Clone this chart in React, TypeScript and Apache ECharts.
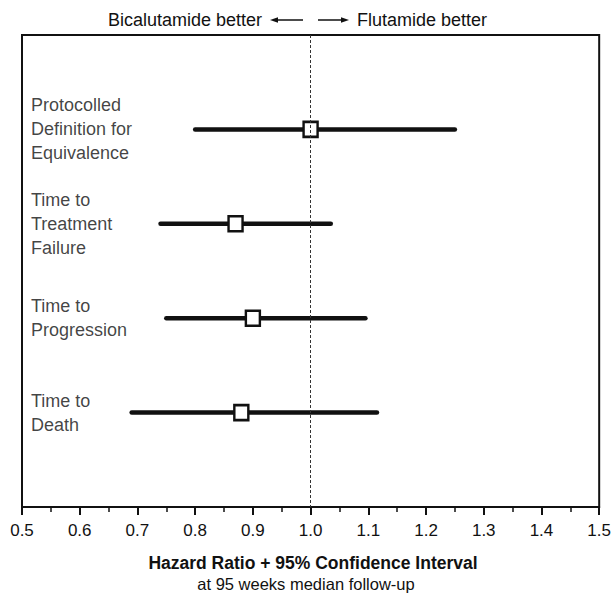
import React, { useEffect, useRef } from "react";
import * as echarts from "echarts";

const categories = [
  "Protocolled\nDefinition for\nEquivalence",
  "Time to\nTreatment\nFailure",
  "Time to\nProgression",
  "Time to\nDeath",
];
const hazardRatio = [1.0, 0.87, 0.9, 0.88];
const ciLower = [0.8, 0.74, 0.75, 0.69];
const ciUpper = [1.25, 1.035, 1.095, 1.115];
const rowPositions = [1, 2, 3, 4];
const xMin = 0.5;
const xMax = 1.5;
const xInterval = 0.1;
const referenceValue = 1.0;
const topLeftText = "Bicalutamide better";
const topRightText = "Flutamide better";
const axisTitle = "Hazard Ratio + 95% Confidence Interval";
const axisSubtitle = "at 95 weeks median follow-up";

const FONT = "'Liberation Sans', Arial, Helvetica, sans-serif";

export default function App() {
  const ref = useRef<HTMLDivElement>(null);
  useEffect(() => {
    if (!ref.current) return;
    const chart = echarts.init(ref.current, null, { renderer: "svg" });
    const ciData = categories.map((_, i) => [ciLower[i], ciUpper[i], rowPositions[i]]);
    const pointData = categories.map((_, i) => [hazardRatio[i], rowPositions[i]]);
    const labelData = categories.map((c, i) => ({ name: c, value: [xMin, rowPositions[i]] }));
    const option: any = {
      animation: false,
      textStyle: { fontFamily: FONT },
      grid: {
        left: 22,
        right: 11,
        top: 35,
        bottom: 88,
        show: true,
        borderColor: "#111",
        borderWidth: 2,
        backgroundColor: "transparent",
      },
      xAxis: {
        type: "value",
        position: "bottom",
        min: xMin,
        max: xMax,
        interval: xInterval,
        splitLine: { show: false },
        axisLine: { show: true, onZero: false, lineStyle: { color: "#111", width: 2 } },
        axisTick: { show: true, inside: false, length: 8, lineStyle: { color: "#111", width: 2 } },
        minorTick: { show: true, splitNumber: 2, length: 5, lineStyle: { color: "#111", width: 1.5 } },
        axisLabel: {
          show: true,
          color: "#111",
          fontSize: 17,
          fontFamily: FONT,
          margin: 15,
          formatter: (v: number) => v.toFixed(1),
        },
      },
      yAxis: {
        type: "value",
        min: 0,
        max: 5,
        inverse: true,
        show: false,
      },
      series: [
        {
          type: "custom",
          data: ciData,
          encode: { x: [0, 1], y: 2 },
          renderItem: (params: any, api: any) => {
            const p1 = api.coord([api.value(0), api.value(2)]);
            const p2 = api.coord([api.value(1), api.value(2)]);
            return {
              type: "line",
              shape: { x1: p1[0], y1: p1[1], x2: p2[0], y2: p2[1] },
              style: { stroke: "#111", lineWidth: 4.5, lineCap: "round" },
            };
          },
          z: 2,
        },
        {
          type: "scatter",
          data: pointData,
          symbol: "rect",
          symbolSize: [14, 15],
          itemStyle: { color: "#fff", borderColor: "#111", borderWidth: 2.5, opacity: 1 },
          z: 3,
          markLine: {
            silent: true,
            symbol: "none",
            label: { show: false },
            lineStyle: { color: "#333", width: 1, type: [3, 2] },
            data: [{ xAxis: referenceValue }],
          },
        },
        {
          type: "scatter",
          data: labelData,
          symbolSize: 0,
          silent: true,
          label: {
            show: true,
            position: "right",
            distance: 9,
            formatter: "{b}",
            color: "#111",
            fontSize: 18,
            fontFamily: FONT,
            lineHeight: 24,
            align: "left",
            verticalAlign: "middle",
          },
        },
      ],
      graphic: [
        {
          type: "text",
          x: 262,
          y: 20,
          style: {
            text: topLeftText,
            fill: "#111",
            font: `18px ${FONT}`,
            textAlign: "right",
            textVerticalAlign: "middle",
          },
        },
        {
          type: "line",
          shape: { x1: 276, y1: 20, x2: 303, y2: 20 },
          style: { stroke: "#111", lineWidth: 1.5 },
        },
        {
          type: "polygon",
          shape: { points: [[270, 20], [278, 17.3], [278, 22.7]] },
          style: { fill: "#111" },
        },
        {
          type: "line",
          shape: { x1: 318, y1: 20, x2: 343, y2: 20 },
          style: { stroke: "#111", lineWidth: 1.5 },
        },
        {
          type: "polygon",
          shape: { points: [[349, 20], [341, 17.3], [341, 22.7]] },
          style: { fill: "#111" },
        },
        {
          type: "text",
          x: 357,
          y: 20,
          style: {
            text: topRightText,
            fill: "#111",
            font: `18px ${FONT}`,
            textAlign: "left",
            textVerticalAlign: "middle",
          },
        },
        {
          type: "text",
          x: 313,
          y: 563,
          style: {
            text: axisTitle,
            fill: "#111",
            font: `bold 17.5px ${FONT}`,
            textAlign: "center",
            textVerticalAlign: "middle",
          },
        },
        {
          type: "text",
          x: 306,
          y: 584,
          style: {
            text: axisSubtitle,
            fill: "#111",
            font: `16.5px ${FONT}`,
            textAlign: "center",
            textVerticalAlign: "middle",
          },
        },
      ],
    };
    chart.setOption(option);
    return () => chart.dispose();
  }, []);
  return (
    <div
      ref={ref}
      style={{ position: "absolute", left: 0, top: 0, width: 614, height: 595, background: "#fff" }}
    />
  );
}
